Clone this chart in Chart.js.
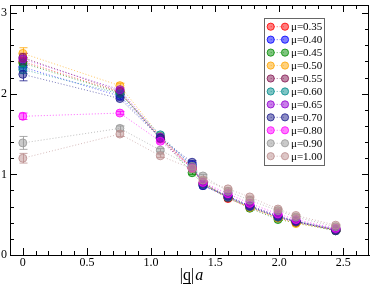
<!DOCTYPE html>
<html><head><meta charset="utf-8">
<script src="https://cdn.jsdelivr.net/npm/chart.js@4"></script>
<style>html,body{margin:0;padding:0;background:#fff}canvas{display:block}</style>
</head><body>
<canvas id="c" width="374" height="285"></canvas>
<script>
// ---- data ----
const qa = [0, 0.757, 1.072, 1.32, 1.405, 1.60, 1.77, 1.99, 2.13, 2.44];
const xTicks = [0, 0.5, 1, 1.5, 2, 2.5];
const yTicks = [0, 1, 2, 3];
const muLabels = ['μ=0.35','μ=0.40','μ=0.45','μ=0.50','μ=0.55','μ=0.60','μ=0.65','μ=0.70','μ=0.80','μ=0.90','μ=1.00'];

const mu035 = [2.40, 2.02, 1.45, 1.08, 0.88, 0.70, 0.59, 0.46, 0.41, 0.31];
const mu040 = [2.33, 1.97, 1.46, 1.12, 0.86, 0.72, 0.60, 0.47, 0.41, 0.31];
const mu045 = [2.38, 2.01, 1.45, 1.02, 0.88, 0.71, 0.58, 0.44, 0.40, 0.30];
const mu050 = [2.50, 2.10, 1.47, 1.08, 0.89, 0.72, 0.59, 0.46, 0.39, 0.31];
const mu055 = [2.45, 2.03, 1.44, 1.07, 0.90, 0.71, 0.60, 0.47, 0.41, 0.31];
const mu060 = [2.30, 2.00, 1.49, 1.10, 0.88, 0.72, 0.60, 0.47, 0.42, 0.32];
const mu065 = [2.43, 2.05, 1.46, 1.09, 0.89, 0.73, 0.61, 0.49, 0.42, 0.32];
const mu070 = [2.24, 1.94, 1.45, 1.15, 0.86, 0.73, 0.61, 0.48, 0.42, 0.30];
const mu080 = [1.72, 1.76, 1.41, 1.08, 0.90, 0.76, 0.64, 0.51, 0.44, 0.33];
const mu090 = [1.39, 1.57, 1.30, 1.10, 0.98, 0.79, 0.68, 0.55, 0.47, 0.35];
const mu100 = [1.20, 1.50, 1.23, 1.07, 0.93, 0.82, 0.72, 0.57, 0.49, 0.37];

const err035 = [0.05, 0.02, 0.02, 0.02, 0.02, 0.01, 0.01, 0.01, 0.01, 0.01];
const err040 = [0.05, 0.02, 0.02, 0.02, 0.02, 0.01, 0.01, 0.01, 0.01, 0.01];
const err045 = [0.05, 0.02, 0.02, 0.02, 0.02, 0.01, 0.01, 0.01, 0.01, 0.01];
const err050 = [0.07, 0.03, 0.02, 0.02, 0.02, 0.01, 0.01, 0.01, 0.01, 0.01];
const err055 = [0.05, 0.02, 0.02, 0.02, 0.02, 0.01, 0.01, 0.01, 0.01, 0.01];
const err060 = [0.05, 0.02, 0.02, 0.02, 0.02, 0.01, 0.01, 0.01, 0.01, 0.01];
const err065 = [0.07, 0.02, 0.02, 0.02, 0.02, 0.01, 0.01, 0.01, 0.01, 0.01];
const err070 = [0.08, 0.02, 0.02, 0.02, 0.02, 0.01, 0.01, 0.01, 0.01, 0.01];
const err080 = [0.04, 0.02, 0.02, 0.02, 0.02, 0.01, 0.01, 0.01, 0.01, 0.01];
const err090 = [0.08, 0.03, 0.02, 0.02, 0.02, 0.01, 0.01, 0.01, 0.01, 0.01];
const err100 = [0.06, 0.03, 0.02, 0.02, 0.02, 0.01, 0.01, 0.01, 0.01, 0.01];

const series = [mu035, mu040, mu045, mu050, mu055, mu060, mu065, mu070, mu080, mu090, mu100];
const errors = [err035, err040, err045, err050, err055, err060, err065, err070, err080, err090, err100];
const baseColors = [
  [255,0,0],[0,0,255],[0,139,0],[255,165,0],[130,20,80],[0,139,139],
  [148,0,211],[30,30,140],[255,0,255],[150,150,150],[188,143,143]
];
const rgba = (c,a) => `rgba(${c[0]},${c[1]},${c[2]},${a})`;

const datasets = series.map((vals, i) => ({
  label: muLabels[i],
  data: vals.map((v, k) => ({x: qa[k], y: v})),
  errs: errors[i],
  order: series.length - i,
  showLine: true,
  borderColor: rgba(baseColors[i], 0.6),
  borderWidth: 1,
  borderDash: [1, 2],
  pointRadius: 4,
  pointBackgroundColor: rgba(baseColors[i], 0.5),
  pointBorderColor: rgba(baseColors[i], 0.8),
  pointBorderWidth: 1,
  pointHoverRadius: 4,
  fill: false,
  tension: 0
}));

const SERIF = '"Liberation Serif", "DejaVu Serif", serif';

const decorPlugin = {
  id: 'decor',
  beforeDatasetsDraw(chart) {
    const ctx = chart.ctx, xs = chart.scales.x, ys = chart.scales.y;
    ctx.save();
    chart.data.datasets.forEach((ds, i) => {
      ctx.strokeStyle = rgba(baseColors[i], 0.8);
      ctx.lineWidth = 1;
      ds.data.forEach((p, k) => {
        const e = ds.errs[k];
        const px = Math.round(xs.getPixelForValue(p.x)) + 0.5;
        const y1 = ys.getPixelForValue(p.y + e), y2 = ys.getPixelForValue(p.y - e);
        ctx.beginPath();
        ctx.moveTo(px, y1); ctx.lineTo(px, y2);
        ctx.moveTo(px - 4, y1); ctx.lineTo(px + 4, y1);
        ctx.moveTo(px - 4, y2); ctx.lineTo(px + 4, y2);
        ctx.stroke();
      });
    });
    ctx.restore();
  },
  afterDraw(chart) {
    const ctx = chart.ctx, xs = chart.scales.x, ys = chart.scales.y;
    const a = chart.chartArea;
    ctx.save();
    ctx.strokeStyle = '#000';
    ctx.lineWidth = 1;
    // frame
    ctx.strokeRect(Math.round(a.left) + 0.5, Math.round(a.top) + 0.5,
      Math.round(a.right - a.left) - 1, Math.round(a.bottom - a.top));
    // x ticks (inward, bottom and top)
    ctx.beginPath();
    for (let t = -1; t <= 27; t++) {
      const v = t / 10;
      const px = Math.round(xs.getPixelForValue(v)) + 0.5;
      if (px <= a.left + 1 || px >= a.right - 1) continue;
      const len = (t % 5 === 0) ? 7 : 4;
      ctx.moveTo(px, a.bottom); ctx.lineTo(px, a.bottom - len);
      ctx.moveTo(px, a.top); ctx.lineTo(px, a.top + len);
    }
    // y ticks (inward, left and right)
    for (let t = 0; t <= 15; t++) {
      const v = t / 5;
      const py = Math.round(ys.getPixelForValue(v)) + 0.5;
      if (py <= a.top + 1 || py >= a.bottom - 1) continue;
      const len = (t % 5 === 0) ? 7 : 4;
      ctx.moveTo(a.left, py); ctx.lineTo(a.left + len, py);
      ctx.moveTo(a.right, py); ctx.lineTo(a.right - len, py);
    }
    ctx.stroke();

    // axis title |q|a
    ctx.fillStyle = '#000';
    ctx.textBaseline = 'alphabetic';
    const fUp = '16px ' + SERIF, fIt = 'italic 16px ' + SERIF;
    const parts = [['|', fUp], ['q', fUp], ['|', fUp], ['a', fIt]];
    let total = 0;
    parts.forEach(p => { ctx.font = p[1]; p.w = ctx.measureText(p[0]).width; total += p.w; });
    let cx = 191 - total / 2;
    const by = 280;
    parts.forEach((p, idx) => {
      ctx.font = p[1];
      ctx.fillText(p[0], cx, by);
      if (idx === 1) {
        ctx.beginPath();
        ctx.moveTo(cx, by + 3.5); ctx.lineTo(cx + p.w, by + 3.5);
        ctx.stroke();
      }
      cx += p.w + (idx === 2 ? 1 : 0);
    });

    // legend
    const lx = 264, ly = 18, lw = 60, lh = 147;
    ctx.fillStyle = '#fff';
    ctx.fillRect(lx, ly, lw, lh);
    ctx.strokeStyle = '#666';
    ctx.strokeRect(lx + 0.5, ly + 0.5, lw, lh);
    ctx.font = '11px ' + SERIF;
    ctx.textBaseline = 'middle';
    chart.data.datasets.forEach((ds, i) => {
      const yy = 26.7 + i * 12.95;
      const c = baseColors[i];
      ctx.strokeStyle = rgba(c, 0.6);
      ctx.setLineDash([1, 2]);
      ctx.beginPath(); ctx.moveTo(270.7, yy); ctx.lineTo(285, yy); ctx.stroke();
      ctx.setLineDash([]);
      [270.7, 285].forEach(mx => {
        ctx.beginPath(); ctx.arc(mx, yy, 3.6, 0, Math.PI * 2);
        ctx.fillStyle = rgba(c, 0.5); ctx.fill();
        ctx.strokeStyle = rgba(c, 0.8); ctx.stroke();
      });
      ctx.fillStyle = '#000';
      ctx.fillText(ds.label, 291, yy + 0.5);
    });
    ctx.restore();
  }
};

new Chart(document.getElementById('c'), {
  type: 'scatter',
  data: { datasets },
  options: {
    responsive: false,
    animation: false,
    devicePixelRatio: 1,
    layout: { padding: { top: 1, right: 2, left: 0, bottom: 0 } },
    plugins: { legend: { display: false }, tooltip: { enabled: false } },
    scales: {
      x: {
        type: 'linear', min: -0.1, max: 2.7,
        grid: { display: false, drawTicks: false },
        border: { display: true, color: '#000', width: 1 },
        ticks: { color: '#000', font: { family: SERIF, size: 12 }, padding: 1, maxRotation: 0 },
        afterBuildTicks: s => { s.ticks = xTicks.map(v => ({ value: v })); },
        afterFit: s => { s.height = 30; s.paddingLeft = 0; s.paddingRight = 0; }
      },
      y: {
        type: 'linear', min: 0, max: 3.1,
        grid: { display: false, drawTicks: false },
        border: { display: true, color: '#000', width: 1 },
        ticks: { color: '#000', font: { family: SERIF, size: 12 }, padding: 3 },
        afterBuildTicks: s => { s.ticks = yTicks.map(v => ({ value: v })); },
        afterFit: s => { s.width = 10; s.paddingTop = 0; s.paddingBottom = 0; }
      }
    }
  },
  plugins: [decorPlugin]
});
</script>
</body></html>
